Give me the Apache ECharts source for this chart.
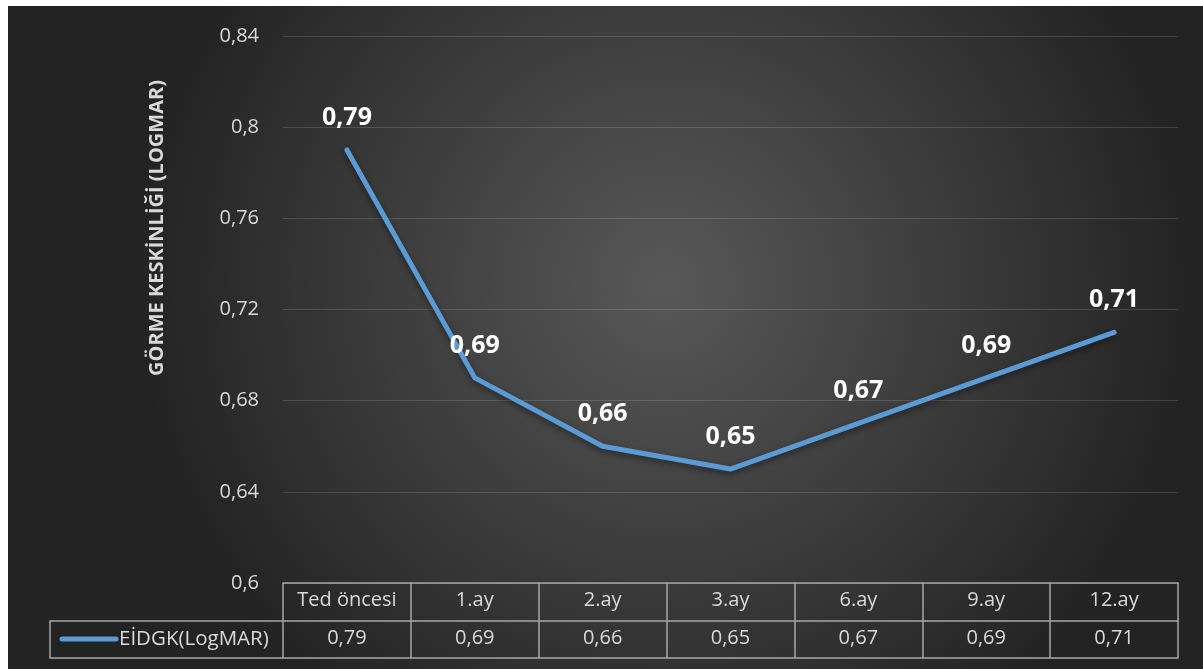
<!DOCTYPE html>
<html>
<head>
<meta charset="utf-8">
<script src="https://cdn.jsdelivr.net/npm/echarts@6/dist/echarts.min.js"></script>
<style>
  html, body { margin: 0; padding: 0; background: #ffffff; }
  #chart { position: absolute; left: 8px; top: 6px; width: 1195px; height: 663px; }
</style>
</head>
<body>
<div id="chart"></div>
<script>
// Visual acuity (LogMAR) over follow-up
const categories = ['Ted öncesi', '1.ay', '2.ay', '3.ay', '6.ay', '9.ay', '12.ay'];
const seriesName = 'EİDGK(LogMAR)';
const values = [0.79, 0.69, 0.66, 0.65, 0.67, 0.69, 0.71];
const yTicks = { min: 0.6, max: 0.84, interval: 0.04 };
const yTitle = 'GÖRME KESKİNLİĞİ (LOGMAR)';

const FONT = '"Open Sans", "Noto Sans", sans-serif';
const TEXT = '#d9d9d9';
const BORDER = '#a6a6a6';
const LINE = '#5b9bd5';

const comma = v => parseFloat(Number(v).toFixed(2)).toString().replace('.', ',');

const chart = echarts.init(document.getElementById('chart'));

const tableAxis = (idx, offset) => ({
  type: 'category',
  data: categories,
  position: 'bottom',
  offset: offset,
  boundaryGap: true,
  axisLine: { show: true, lineStyle: { color: BORDER, width: 1.5 } },
  axisTick: idx === 0
    ? { show: true, interval: 0, length: 75, lineStyle: { color: BORDER, width: 1.5 } }
    : { show: false },
  axisLabel: idx === 2 ? { show: false } : {
    show: true, interval: 0, margin: 7,
    color: TEXT, fontFamily: FONT, fontSize: 20,
    formatter: idx === 0 ? (v => v) : ((v, i) => comma(values[i]))
  },
  splitLine: { show: false }
});

chart.setOption({
  animation: false,
  backgroundColor: {
    type: 'radial', x: 0.55, y: 0.42, r: 0.8,
    colorStops: [
      { offset: 0, color: '#585858' },
      { offset: 1, color: '#232323' }
    ]
  },
  grid: { left: 275, right: 25, top: 30, bottom: 86 },
  xAxis: [tableAxis(0, 0), tableAxis(1, 38), tableAxis(2, 75)],
  yAxis: {
    type: 'value',
    min: yTicks.min, max: yTicks.max, interval: yTicks.interval,
    axisLine: { show: false },
    axisTick: { show: false },
    axisLabel: { color: TEXT, fontFamily: FONT, fontSize: 20, margin: 24, formatter: comma },
    splitLine: { lineStyle: { color: 'rgba(255,255,255,0.14)', width: 1.2 } }
  },
  series: [{
    name: seriesName,
    type: 'line',
    data: values,
    xAxisIndex: 0,
    symbol: 'circle',
    symbolSize: 4,
    itemStyle: { color: LINE },
    lineStyle: {
      color: LINE, width: 5, cap: 'round', join: 'round',
      shadowColor: 'rgba(0,0,0,0.45)', shadowBlur: 6, shadowOffsetY: 3
    },
    label: {
      show: true, position: 'top', distance: 18,
      color: '#ffffff', fontFamily: FONT, fontWeight: 'bold', fontSize: 25,
      formatter: p => comma(p.value)
    }
  }],
  graphic: [
    {
      type: 'text', x: 149, y: 222, rotation: Math.PI / 2,
      style: {
        text: yTitle, fill: TEXT, font: 'bold 20px ' + FONT,
        align: 'center', verticalAlign: 'middle'
      }
    },
    {
      type: 'polyline',
      shape: { points: [[275, 615], [42, 615], [42, 652], [275, 652]] },
      style: { stroke: BORDER, lineWidth: 1.5, fill: null }
    },
    {
      type: 'line',
      shape: { x1: 54, y1: 633, x2: 108, y2: 633 },
      style: { stroke: LINE, lineWidth: 5, lineCap: 'round' }
    },
    {
      type: 'text', x: 111, y: 633,
      style: {
        text: seriesName, fill: TEXT, font: '20.5px ' + FONT,
        align: 'left', verticalAlign: 'middle'
      }
    }
  ]
});
</script>
</body>
</html>
